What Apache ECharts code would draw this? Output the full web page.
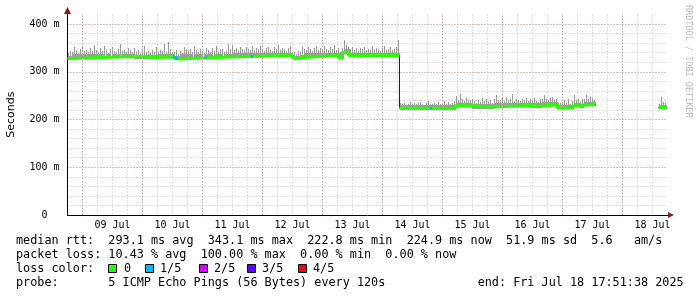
<!DOCTYPE html>
<html>
<head>
<meta charset="utf-8">
<script src="https://cdn.jsdelivr.net/npm/echarts@6/dist/echarts.min.js"></script>
<style>
html,body{margin:0;padding:0;background:#fff}
#main{width:697px;height:297px}
</style>
</head>
<body>
<div id="main"></div>
<script>
// x values are hours since 08 Jul 2025 00:00
var xMin = 18, xMax = 258
var sampleStep = 0.8

var dayLabels = ['09 Jul','10 Jul','11 Jul','12 Jul','13 Jul','14 Jul','15 Jul','16 Jul','17 Jul','18 Jul']

// median rtt in ms, [hour, value] change points
var medianA = [[18,328],[19.2,332],[44,330],[54,331],[60.4,327],[62.4,331],[83.2,334],[107.2,330],[108.4,327],[110.8,330],[112,334],[126.4,329],[128,341],[130.4,334],[150.8,334]]
var medianB = [[150.8,223.5],[173.2,229],[179.2,226],[188,229.5],[203.2,228],[207.2,231],[214,224],[220,229],[222.4,226.5],[224.4,231],[229.2,231]]
var medianC = [[254.4,225],[257.6,225]]

// smoke height above median (ms), one value per sample
var smokeA = [9,14,7,18,11,6,13,20,9,12, 8,16,10,22,12,7,15,9,19,11, 6,13,17,10,8,14,24,9,12,7,
  15,11,8,18,10,13,6,16,21,9, 12,7,14,10,19,8,13,11,25,9, 30,14,8,12,16,9,11,7,18,13,
  10,15,8,20,12,9,14,11,7,17, 13,9,16,10,22,8,12,15,9,11, 26,14,20,9,13,8,15,11,10,16,
  12,9,17,8,14,11,19,10,7,13, 15,10,8,16,12,21,9,14,11,7, 13,18,9,12,8,15,10,22,11,9,
  16,12,8,14,19,10,13,9,17,11, 10,15,12,20,9,14,11,18,24,13, 9,12,16,10,14,8,13,11,15,9,
  12,10,17,9,13,11,8,14,19,10,12,16,9,11,15,30]
var smokeB = [10,6,9,5,8,12,7,10,6,9, 11,7,5,9,13,6,8,10,7,12, 6,9,14,8,11,7,10,13,18,9,
  22,12,8,15,10,9,16,11,7,13, 9,18,10,14,8,12,7,11,20,9, 10,13,7,16,9,11,22,8,12,10,
  7,12,9,14,8,11,10,16,9,7, 13,9,18,10,8,12,15,7,11,9, 8,11,14,9,16,7,12,20,10,13,
  9,15,11,18,10,14,12,8]
var smokeC = [6,20,10,8]

// spans with 1/5 loss
var lossSpans = [[60.4,62.4],[73.2,74],[91.6,92.4],[163.2,164]]

var lossLabels = ['0','1/5','2/5','3/5','4/5']
var lossColors = ['#26ff00','#00b8ff','#dd00ff','#5e00ff','#ff0000']

var statLine = 'median rtt:  293.1 ms avg  343.1 ms max  222.8 ms min  224.9 ms now  51.9 ms sd  5.6   am/s'
var lossLine = 'packet loss: 10.43 % avg  100.00 % max  0.00 % min  0.00 % now'
var probeLine = 'probe:       5 ICMP Echo Pings (56 Bytes) every 120s             end: Fri Jul 18 17:51:38 2025'

function medAt(seg, h){
  var v = seg[0][1]
  for (var k = 0; k < seg.length; k++) if (seg[k][0] <= h + 1e-6) v = seg[k][1]
  return v
}
function smokeRows(seg, offs){
  var out = []
  for (var i = 0; i < offs.length; i++) {
    var h = seg[0][0] + i * sampleStep
    var m = medAt(seg, h)
    out.push([h, m - 3, m + offs[i] + 2, m + 6])
  }
  return out
}
var smokeData = smokeRows(medianA, smokeA).concat(smokeRows(medianB, smokeB), smokeRows(medianC, smokeC))

var blackData = medianA.concat(medianB, [[229.2,'-']], medianC)
var greenData = medianA.concat([[150.8,'-']], medianB, [[229.2,'-']], medianC)

var midnights = []
for (var d = 24; d < xMax; d += 24) midnights.push({xAxis: d})

var mono = "'DejaVu Sans Mono', monospace"
var txt = function(s, x, y){
  return {type:'text', x:x, y:y, style:{text:s, font:'11.8px ' + mono, fill:'#000', verticalAlign:'middle', textVerticalAlign:'middle'}}
}

var graphics = [
  txt(statLine, 16, 241),
  txt(lossLine, 16, 255),
  txt('loss color:', 16, 269),
  txt(probeLine, 16, 283),
  {type:'polygon', shape:{points:[[64,14],[71,14],[67.5,7]]}, style:{fill:'#8b1a1a'}},
  {type:'polygon', shape:{points:[[668,212],[668,218],[674,215]]}, style:{fill:'#8b1a1a'}},
  {type:'text', x:688, y:5, rotation:-Math.PI/2,
   style:{text:'RRDTOOL / TOBI OETIKER', font:'8.5px ' + mono, fill:'#bbbbbb', verticalAlign:'middle', textVerticalAlign:'middle'}}
]
var boxX = [108,145,199,247,298], labX = [124,160,214,262,313]
lossLabels.forEach(function(l, i){
  graphics.push({type:'rect', shape:{x:boxX[i]+0.5, y:264.5, width:8, height:8}, style:{fill:lossColors[i], stroke:'#000', lineWidth:1}})
  graphics.push(txt(l, labX[i], 269))
})

function grey(){ return {color: '#c4c4c4', type: [1,2], width: 1} }
function red(){ return {color: '#e09a9a', type: [1,2], width: 1} }

var myChart = echarts.init(document.getElementById('main'), null, {renderer:'canvas'})
var option = {
  animation: false,
  backgroundColor: '#fff',
  grid: {left: 67.5, right: 29.5, top: 14.5, bottom: 82, containLabel: false, outerBoundsMode: 'none'},
  xAxis: {
    type: 'value', min: xMin, max: xMax, interval: 6,
    axisLine: {show: true, lineStyle: {color: '#000', width: 1}},
    axisTick: {show: false},
    axisLabel: {
      margin: 5, color: '#000', fontFamily: mono, fontSize: 10,
      formatter: function(v){
        var k = (v - 36) / 24
        return (k >= 0 && k === Math.round(k)) ? dayLabels[k] : ''
      }
    },
    splitLine: {show: true, showMinLine: false, showMaxLine: false, lineStyle: grey()}
  },
  yAxis: [
    {
      type: 'value', min: 0, max: 420, interval: 20,
      axisLine: {show: false}, axisTick: {show: false}, axisLabel: {show: false},
      splitLine: {show: true, showMinLine: false, showMaxLine: false, lineStyle: grey()}
    },
    {
      type: 'value', min: 0, max: 420, interval: 100, position: 'left',
      name: 'Seconds', nameLocation: 'middle', nameRotate: 90, nameGap: 51,
      nameTextStyle: {fontFamily: "'DejaVu Sans', sans-serif", fontSize: 11, color: '#000'},
      axisLine: {show: true, lineStyle: {color: '#000', width: 1}},
      axisTick: {show: false},
      axisLabel: {
        margin: 8, color: '#000', fontFamily: mono, fontSize: 10,
        formatter: function(v){
          if (v % 100 !== 0) return ''
          return v === 0 ? '0  ' : v + ' m'
        }
      },
      splitLine: {show: true, showMinLine: false, showMaxLine: false, lineStyle: red()}
    }
  ],
  visualMap: {
    show: false, type: 'piecewise', seriesIndex: 3, dimension: 0,
    pieces: lossSpans.map(function(s){ return {gte: s[0], lte: s[1], color: lossColors[1]} }),
    outOfRange: {color: lossColors[0]}
  },
  graphic: graphics,
  series: [
    {
      type: 'line', data: [], z: 1, silent: true, yAxisIndex: 1,
      markLine: {silent: true, symbol: 'none', label: {show: false}, lineStyle: red(), data: midnights}
    },
    {
      type: 'custom', z: 2, silent: true, yAxisIndex: 1, data: smokeData,
      renderItem: function(params, api){
        var h = api.value(0)
        var b0 = api.coord([h, api.value(3)])
        var b1 = api.coord([h + sampleStep, api.value(1)])
        var s0 = api.coord([h, api.value(2)])
        var x0 = Math.round(b0[0]), x1 = Math.round(b1[0])
        var yTop = Math.round(s0[1]), yBase = Math.round(b0[1]), yBot = Math.round(b1[1])
        return {type: 'group', children: [
          {type: 'rect', shape: {x: x0, y: yBase, width: x1 - x0, height: yBot - yBase}, style: {fill: '#a0a0a0'}},
          {type: 'rect', shape: {x: x0, y: yTop, width: 1, height: yBot - yTop}, style: {fill: '#9a9a9a'}}
        ]}
      }
    },
    {
      type: 'line', z: 3, silent: true, yAxisIndex: 1, step: 'end', showSymbol: false,
      data: blackData, lineStyle: {color: '#202020', width: 1}
    },
    {
      type: 'line', z: 4, silent: true, yAxisIndex: 1, step: 'end', showSymbol: false,
      data: greenData, lineStyle: {width: 3}
    }
  ]
}
myChart.setOption(option)
</script>
</body>
</html>
